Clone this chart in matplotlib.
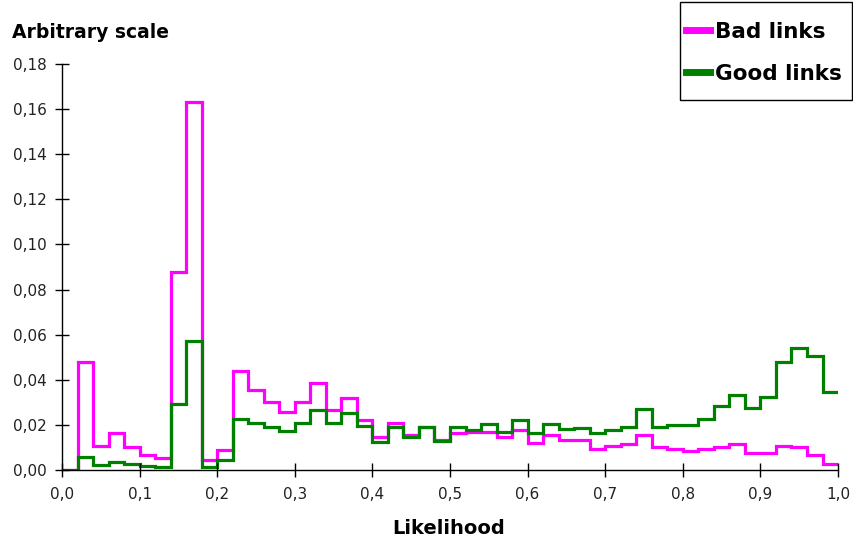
import numpy as np
import matplotlib
matplotlib.use("Agg")
import matplotlib.pyplot as plt
from matplotlib.patches import Rectangle
from matplotlib.ticker import FuncFormatter

plt.rcParams['font.family'] = ['DejaVu Sans']

# 50 bins of width 0.02 over the likelihood range 0..1
bin_edges = np.linspace(0.0, 1.0, 51)

bad_links = [
    0.0, 0.048, 0.0106, 0.0163, 0.0103, 0.0066, 0.0052, 0.0878, 0.163, 0.0044,
    0.0089, 0.0437, 0.0355, 0.0303, 0.0259, 0.0303, 0.0387, 0.0266, 0.0318, 0.0222,
    0.0148, 0.0207, 0.0155, 0.019, 0.0132, 0.0165, 0.017, 0.017, 0.0145, 0.0177,
    0.0118, 0.0155, 0.0133, 0.0133, 0.0092, 0.0106, 0.0115, 0.0155, 0.0101, 0.0092,
    0.0084, 0.0092, 0.0103, 0.0114, 0.0077, 0.0077, 0.0106, 0.0101, 0.0066, 0.0027,
]
good_links = [
    0.0, 0.0056, 0.0021, 0.0035, 0.0027, 0.0018, 0.0012, 0.0293, 0.057, 0.0015,
    0.0046, 0.0225, 0.021, 0.0192, 0.0173, 0.021, 0.0266, 0.021, 0.0254, 0.0195,
    0.0126, 0.0192, 0.0145, 0.0192, 0.0129, 0.0192, 0.0177, 0.0202, 0.017, 0.0222,
    0.0165, 0.0202, 0.018, 0.0185, 0.0163, 0.0177, 0.0192, 0.0269, 0.0192, 0.0198,
    0.0198, 0.0225, 0.0284, 0.0333, 0.0274, 0.0325, 0.048, 0.054, 0.0505, 0.0347,
]

xticks = np.round(np.arange(0, 1.01, 0.1), 1)
yticks = np.round(np.arange(0, 0.181, 0.02), 2)

W, H = 854, 540
fig = plt.figure(figsize=(W / 100, H / 100), dpi=100)
ax = fig.add_axes([0.0726, 0.1296, 0.9087, 0.7519])

ax.stairs(bad_links, bin_edges, baseline=None, color='#ff00ff', lw=2.3, label='Bad links')
ax.stairs(good_links, bin_edges, baseline=None, color='#008000', lw=2.3, label='Good links')

ax.set_xlim(0, 1.0)
ax.set_ylim(0, 0.18)
ax.set_xticks(xticks)
ax.set_yticks(yticks)
ax.xaxis.set_major_formatter(FuncFormatter(lambda v, p: f"{v:.1f}".replace('.', ',')))
ax.yaxis.set_major_formatter(FuncFormatter(lambda v, p: f"{v:.2f}".replace('.', ',')))
ax.tick_params(direction='inout', length=10, width=1, labelsize=11, colors='black',
               labelcolor='#222222')
ax.tick_params(axis='x', pad=7)
ax.tick_params(axis='y', pad=6)

for side in ['top', 'right']:
    ax.spines[side].set_visible(False)
for side in ['left', 'bottom']:
    ax.spines[side].set_linewidth(1)
    ax.spines[side].set_color('black')

fig.text(12 / W, 1 - 32 / H, 'Arbitrary scale', fontsize=13.5, fontweight='bold',
         va='center', ha='left')
fig.text(449 / W, 1 - 528 / H, 'Likelihood', fontsize=14, fontweight='bold',
         va='center', ha='center')

# legend entries without frame, box drawn separately
leg = fig.legend(loc='upper left', bbox_to_anchor=(686 / W, 1 - 22 / H),
                 prop={'size': 15.5, 'weight': 'bold'}, frameon=False,
                 handlelength=1.1, handletextpad=0.25, borderpad=0,
                 labelspacing=1.0, borderaxespad=0)
for line in leg.get_lines():
    line.set_linewidth(5)
fig.patches.append(Rectangle((680 / W, 1 - 100 / H), 172 / W, 98 / H,
                             transform=fig.transFigure, fill=False,
                             edgecolor='black', linewidth=1))

fig.savefig('out.png', dpi=100)
